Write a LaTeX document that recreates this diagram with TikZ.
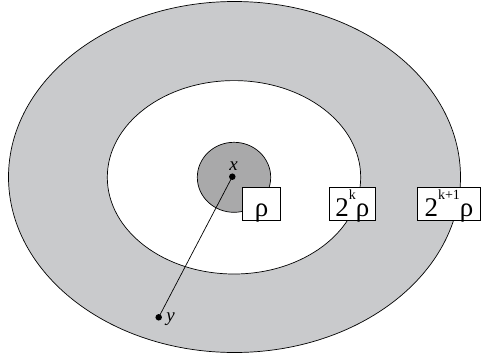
\documentclass[tikz,border=0pt]{standalone}
\usepackage{fontspec}
\setmainfont{Liberation Serif}
\definecolor{ringgray}{HTML}{C9CACC}
\definecolor{coregray}{HTML}{A9A9AA}
\tikzset{
  rim/.style={draw=black, line width=0.7pt},
  lab/.style={draw=black, fill=white, line width=0.7pt, inner sep=0pt, text height=29pt, text depth=4pt, font=\fontsize{27}{29}\selectfont},
  pt/.style={circle, fill=black, inner sep=0pt, minimum size=6.5pt},
  ptlab/.style={font=\fontsize{19}{21}\selectfont\itshape, inner sep=0pt}
}
\newcommand{\supk}[1]{\raisebox{17.5pt}{\fontsize{14}{15}\selectfont #1}}
\begin{document}
\begin{tikzpicture}[x=1pt,y=1pt]
\useasboundingbox (0,0) rectangle (481,-356);
\fill[ringgray,rim] (234.5,-177) ellipse [x radius=226, y radius=175.5];
\fill[white,rim] (234,-177.3) ellipse [x radius=126.7, y radius=96.7];
\fill[coregray,rim] (234,-177.3) ellipse [x radius=36.7, y radius=35];
\node[pt] (x) at (232.3,-176.7) {};
\node[pt] (y) at (158.7,-317.3) {};
\draw[line width=0.7pt] (x.center) -- (y.center);
\node[ptlab] (xl) at (233.5,-166) {x};
\node[ptlab] (yl) at (170.5,-319) {y};
\node[lab, minimum width=38pt] (r0) at (261.7,-204.3) {ρ};
\node[lab, minimum width=46pt] (r1) at (352.3,-204.3) {2\supk{k}ρ};
\node[lab, minimum width=62.6pt] (r2) at (449,-204.3) {2\supk{k+1}ρ};
\end{tikzpicture}
\end{document}
